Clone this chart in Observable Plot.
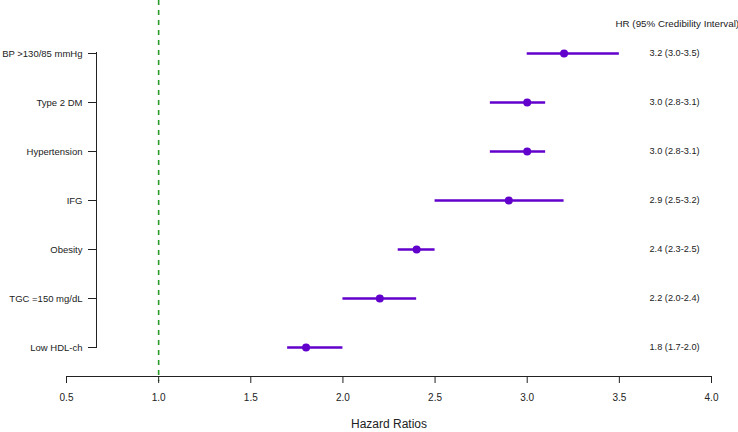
<!DOCTYPE html>
<html>
<head>
<meta charset="utf-8">
<script src="https://cdn.jsdelivr.net/npm/d3@7"></script>
<script src="https://cdn.jsdelivr.net/npm/@observablehq/plot@0.6"></script>
<style>
  html, body { margin: 0; padding: 0; background: #fff; }
  svg { font-family: "Liberation Sans", Arial, sans-serif; }
</style>
</head>
<body>
<div id="chart"></div>
<script>
const factors = ["BP >130/85 mmHg", "Type 2 DM", "Hypertension", "IFG", "Obesity", "TGC =150 mg/dL", "Low HDL-ch"];
const hr    = [3.2, 3.0, 3.0, 2.9, 2.4, 2.2, 1.8];
const lower = [3.0, 2.8, 2.8, 2.5, 2.3, 2.0, 1.7];
const upper = [3.5, 3.1, 3.1, 3.2, 2.5, 2.4, 2.0];
const ciLabels = ["3.2 (3.0-3.5)", "3.0 (2.8-3.1)", "3.0 (2.8-3.1)", "2.9 (2.5-3.2)", "2.4 (2.3-2.5)", "2.2 (2.0-2.4)", "1.8 (1.7-2.0)"];
const xTicks = [0.5, 1.0, 1.5, 2.0, 2.5, 3.0, 3.5, 4.0];
const headerText = "HR (95% Credibility Interval)";
const xTitle = "Hazard Ratios";
const refLine = 1;

const data = factors.map((f, i) => ({factor: f, hr: hr[i], lo: lower[i], hi: upper[i], label: ciLabels[i]}));
const purple = "#6200cc";

const chart = Plot.plot({
  width: 738,
  height: 432,
  marginTop: 0,
  marginBottom: 56,
  marginLeft: 66,
  marginRight: 27,
  style: {fontFamily: "Liberation Sans, Arial, sans-serif", fontSize: "10px", color: "#222"},
  x: {domain: [0.5, 4.0], ticks: xTicks, tickFormat: d3.format(".1f")},
  y: {type: "point", domain: factors, padding: 0, insetTop: 52, insetBottom: 29},
  marks: [
    Plot.ruleX([refLine], {stroke: "#2a9a2a", strokeWidth: 1.6, strokeDasharray: "5,5", insetBottom: -5}),
    Plot.frame({anchor: "bottom", stroke: "#222", strokeWidth: 1}),
    Plot.axisX({
      ticks: xTicks, tickFormat: d3.format(".1f"), tickSize: 7, tickPadding: 10,
      fontSize: 10, label: null
    }),
    Plot.text([xTitle], {frameAnchor: "bottom", dy: 48, text: d => d, lineAnchor: "middle", fontSize: 12, fill: "#222"}),
    Plot.frame({anchor: "left", dx: 30, insetTop: 52, insetBottom: 29, stroke: "#222", strokeWidth: 1}),
    Plot.axisY({anchor: "left", dx: 30, tickSize: 8, tickPadding: 6, fontSize: 9.5, label: null}),
    Plot.ruleY(data, {y: "factor", x1: "lo", x2: "hi", stroke: purple, strokeWidth: 2.6}),
    Plot.dot(data, {y: "factor", x: "hr", fill: purple, r: 4}),
    Plot.text(data, {y: "factor", frameAnchor: "right", dx: -62, text: "label", textAnchor: "start", fontSize: 9.2, fill: "#222"}),
    Plot.text([headerText], {frameAnchor: "top-right", dx: -96, dy: 23, text: d => d, textAnchor: "start", lineAnchor: "middle", fontSize: 9.8, fill: "#222"})
  ]
});
document.getElementById("chart").appendChild(chart);
</script>
</body>
</html>
